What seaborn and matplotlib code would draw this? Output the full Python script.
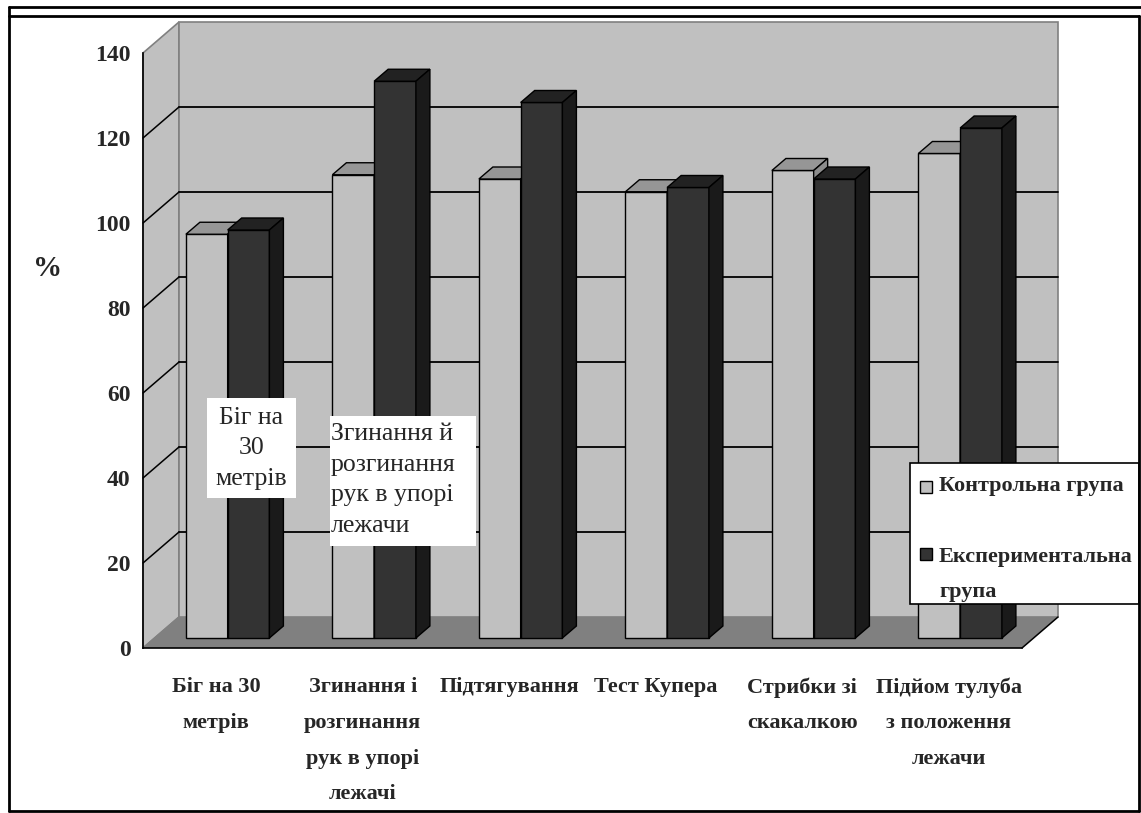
import matplotlib
matplotlib.use("Agg")
import matplotlib.pyplot as plt
import pandas as pd
import seaborn as sns
from matplotlib.patches import Polygon, Rectangle
from matplotlib.lines import Line2D
from matplotlib.transforms import ScaledTranslation, IdentityTransform

# ---- data -------------------------------------------------------------
categories = [
    "Біг на 30\nметрів",
    "Згинання і\nрозгинання\nрук в упорі\nлежачі",
    "Підтягування",
    "Тест Купера",
    "Стрибки зі\nскакалкою",
    "Підйом тулуба\nз положення\nлежачи",
]
control = [95, 109, 108, 105, 110, 114]
experimental = [96, 131, 126, 106, 108, 120]
group_names = ["Контрольна група", "Експериментальна група"]
legend_labels = ["Контрольна група", "Експериментальна\nгрупа"]
y_ticks = [0, 20, 40, 60, 80, 100, 120, 140]
y_label = "%"
note_run = "Біг на\n30\nметрів"
note_push = "Згинання й\nрозгинання\nрук в упорі\nлежачи"

# ---- style ------------------------------------------------------------
sns.set_style("white")
plt.rcParams["font.family"] = ["Liberation Serif", "DejaVu Serif"]

FRONT = {"Контрольна група": "#c0c0c0", "Експериментальна група": "#333333"}
TOP = ["#969696", "#222222"]
SIDE = ["#8c8c8c", "#1a1a1a"]
WALL = "#c0c0c0"
FLOOR = "#808080"
EDGE = "#808080"

W, H = 1141, 813
fig = plt.figure(figsize=(W / 100, H / 100), dpi=100)
fig.patch.set_facecolor("white")

# axes = front plane of the 3-D box
ax = fig.add_axes([143 / W, (H - 648) / H, (1022 - 143) / W, (648 - 53) / H])
ax.patch.set_visible(False)

df = pd.DataFrame({
    "category": categories * 2,
    "value": control + experimental,
    "group": [group_names[0]] * len(categories) + [group_names[1]] * len(categories),
})

sns.barplot(data=df, x="category", y="value", hue="group", order=categories,
            hue_order=group_names, palette=FRONT, width=0.57, saturation=1,
            edgecolor="black", linewidth=1, errorbar=None, legend=False, ax=ax)

ax.set_xlim(-0.5, len(categories) - 0.5)
ax.set_ylim(0, 140)

# depth offsets in pixels (screen space)
WALL_DX, WALL_DY = 36, 31      # full depth of the box
BAR_DX, BAR_DY = 11.4, 10      # plane in which bars stand
BAR_D_X, BAR_D_Y = 14, 12      # bar thickness

ident = IdentityTransform()


def disp(x, y):
    return ax.transData.transform((x, y))


x_lo, x_hi = ax.get_xlim()
fl = disp(x_lo, 0)
ft = disp(x_lo, 140)
fr = disp(x_hi, 0)

# left wall
left_wall = Polygon([fl, ft, ft + (WALL_DX, WALL_DY), fl + (WALL_DX, WALL_DY)],
                    closed=True, fc=WALL, ec=EDGE, lw=1.2, transform=ident,
                    clip_on=False, zorder=0.1)
ax.add_patch(left_wall)
# back wall
bl = fl + (WALL_DX, WALL_DY)
back_wall = Rectangle(bl, fr[0] - fl[0], ft[1] - fl[1], fc=WALL, ec=EDGE, lw=1.2,
                      transform=ident, clip_on=False, zorder=0.1)
ax.add_patch(back_wall)

# gridlines on back wall and left wall
for v in y_ticks[1:-1]:
    p = disp(x_lo, v)
    q = disp(x_hi, v)
    ax.add_line(Line2D([p[0] + WALL_DX, q[0] + WALL_DX], [p[1] + WALL_DY, q[1] + WALL_DY],
                       color="black", lw=1.3, transform=ident, clip_on=False, zorder=0.2))
    ax.add_line(Line2D([p[0], p[0] + WALL_DX], [p[1], p[1] + WALL_DY],
                       color="black", lw=1.1, transform=ident, clip_on=False, zorder=0.2))

# floor
floor = Polygon([fl, fr, fr + (WALL_DX, WALL_DY), fl + (WALL_DX, WALL_DY)], closed=True,
                fc=FLOOR, ec="none", transform=ident, clip_on=False, zorder=0.3)
ax.add_patch(floor)
ax.add_line(Line2D([fr[0], fr[0] + WALL_DX], [fr[1], fr[1] + WALL_DY], color="black",
                   lw=1.1, transform=ident, clip_on=False, zorder=0.35))
ax.add_line(Line2D([fl[0], fl[0] + WALL_DX], [fl[1], fl[1] + WALL_DY], color=EDGE,
                   lw=1.1, transform=ident, clip_on=False, zorder=0.35))

# 3-D bars: shift seaborn's front faces into the bar plane, add top and side faces
shift = ax.transData + ScaledTranslation(BAR_DX / 100, BAR_DY / 100, fig.dpi_scale_trans)
for k, cont in enumerate(ax.containers):
    for i, bar in enumerate(cont):
        z = 3 + i * 0.1 + k * 0.05
        bar.set_transform(shift)
        bar.set_clip_on(False)
        bar.set_zorder(z)
        x0, w, h = bar.get_x(), bar.get_width(), bar.get_height()
        a = disp(x0, h) + (BAR_DX, BAR_DY)
        b = disp(x0 + w, h) + (BAR_DX, BAR_DY)
        c = disp(x0 + w, 0) + (BAR_DX, BAR_DY)
        d = (BAR_D_X, BAR_D_Y)
        ax.add_patch(Polygon([a, b, b + d, a + d], closed=True, fc=TOP[k], ec="black",
                             lw=1, transform=ident, clip_on=False, zorder=z + 0.01))
        ax.add_patch(Polygon([c, b, b + d, c + d], closed=True, fc=SIDE[k], ec="black",
                             lw=1, transform=ident, clip_on=False, zorder=z + 0.01))

# axes, ticks, labels
for s in ["top", "right"]:
    ax.spines[s].set_visible(False)
for s in ["left", "bottom"]:
    ax.spines[s].set_color("black")
    ax.spines[s].set_linewidth(1.2)
    ax.spines[s].set_zorder(0.4)

ax.set_yticks(y_ticks)
ax.set_yticklabels([str(t) for t in y_ticks])
ax.tick_params(axis="y", which="major", direction="out", length=6, width=1,
               color="black", pad=3, labelsize=17)
ax.set_xticks(range(len(categories)))
ax.set_xticklabels(categories, fontsize=16, fontweight="bold", linespacing=2.05,
                   va="top")
ax.set_xticks([i - 0.5 for i in range(len(categories) + 1)], minor=True)
ax.tick_params(axis="x", which="major", length=0, pad=21)
ax.tick_params(axis="x", which="minor", direction="out", length=7.5, width=1,
               color="black")
for t in ax.get_yticklabels():
    t.set_fontweight("bold")
ax.set_xlabel("")
ax.set_ylabel(y_label, rotation=0, fontsize=21, fontweight="bold",
              va="center", ha="center")
ax.yaxis.set_label_coords((48 - 143) / (1022 - 143), (648 - 268) / (648 - 53))


def fig_px(x, y_img):
    return (x, H - y_img)


# white note boxes
def note(x0, y0, x1, y1, text, tx, ty, ha):
    fig.add_artist(Rectangle(fig_px(x0, y1), x1 - x0, y1 - y0, fc="white", ec="none",
                             transform=ident, zorder=5))
    fig.text(*fig_px(tx, ty), text, transform=ident, ha=ha, va="center",
             family=["Liberation Serif", "DejaVu Serif"], fontsize=18.5,
             linespacing=1.5, zorder=6)


note(207, 398, 296, 498, note_run, 251.5, 448, "center")
note(330, 416, 476, 546, note_push, 331, 480, "left")

# legend box
fig.add_artist(Rectangle(fig_px(910, 604), 229, 141, fc="white", ec="black", lw=1.2,
                         transform=ident, zorder=5))
leg_colors = [FRONT[group_names[0]], FRONT[group_names[1]]]
for (sq_y, txt_y, label, colr) in [(481, 486, legend_labels[0], leg_colors[0]),
                                   (548, 574, legend_labels[1], leg_colors[1])]:
    fig.add_artist(Rectangle(fig_px(920, sq_y + 12), 12, 12, fc=colr, ec="black", lw=1,
                             transform=ident, zorder=6))
    fig.text(*fig_px(939, txt_y), label, transform=ident, ha="left", va="center",
             fontsize=16, fontweight="bold", linespacing=2.0, zorder=6)

# outer frame
for xs, ys in [([9, 1141], [7, 7]), ([9, 1139], [16, 16]), ([9, 9], [7, 811]),
               ([1139, 1139], [16, 811]), ([9, 1139], [811, 811])]:
    fig.add_artist(Line2D(xs, [H - y for y in ys], color="black", lw=2,
                          transform=ident, zorder=7))

fig.savefig("out.png", dpi=100)
